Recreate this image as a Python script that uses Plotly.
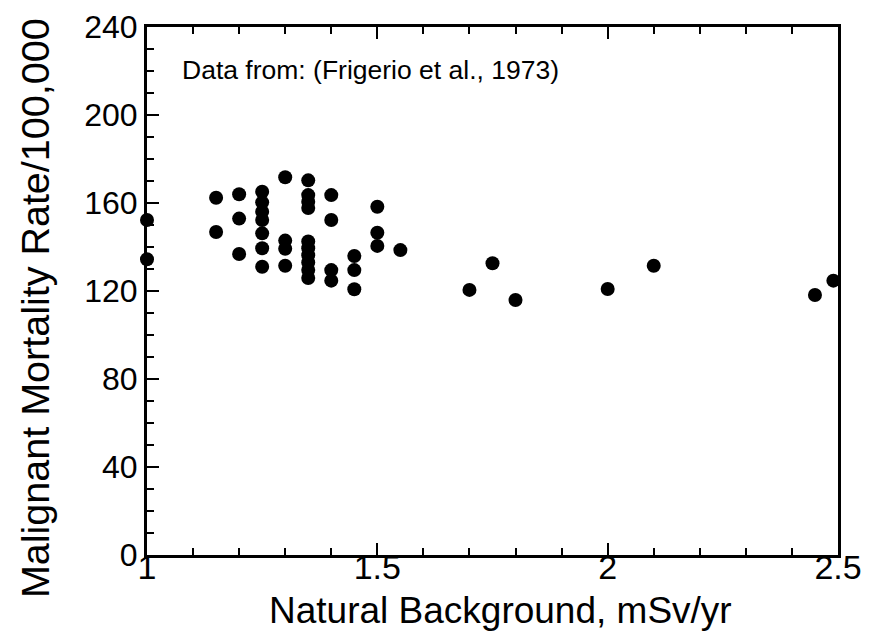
import plotly.graph_objects as go

# Natural background (mSv/yr) and malignant mortality rate per 100,000
background = [1.0, 1.0,
              1.15, 1.15,
              1.2, 1.2, 1.2,
              1.25, 1.25, 1.25, 1.25, 1.25, 1.25, 1.25,
              1.3, 1.3, 1.3, 1.3,
              1.35, 1.35, 1.35, 1.35, 1.35, 1.35, 1.35, 1.35, 1.35, 1.35,
              1.4, 1.4, 1.4, 1.4,
              1.45, 1.45, 1.45,
              1.5, 1.5, 1.5,
              1.55,
              1.7, 1.75, 1.8, 2.0, 2.1, 2.45, 2.49]
mortality = [152.3, 134.4,
             162.4, 146.8,
             164.0, 152.9, 136.8,
             165.1, 160.3, 156.0, 152.3, 146.2, 139.4, 131.0,
             171.7, 142.9, 139.2, 131.5,
             170.3, 163.6, 160.6, 157.7, 142.5, 139.4, 136.3, 133.0, 129.6, 125.9,
             163.6, 152.3, 129.5, 124.7,
             135.9, 129.5, 120.8,
             158.3, 146.5, 140.5,
             138.6,
             120.5, 132.6, 115.9, 120.9, 131.5, 118.2, 124.7]

x_ticks = [1, 1.5, 2, 2.5]
x_tick_labels = ["1", "1.5", "2", "2.5"]
y_ticks = [0, 40, 80, 120, 160, 200, 240]

x_title = "Natural Background, mSv/yr"
y_title = "Malignant Mortality Rate/100,000"
note = "Data from: (Frigerio et al., 1973)"

FONT = "Liberation Sans, Arial, sans-serif"

fig = go.Figure()
fig.add_trace(go.Scatter(
    x=background, y=mortality, mode="markers",
    marker=dict(size=14, color="black"),
    cliponaxis=False, showlegend=False,
))

fig.update_layout(
    width=870, height=634,
    margin=dict(l=147, r=32, t=27, b=79),
    paper_bgcolor="white", plot_bgcolor="white",
    font=dict(family=FONT, color="black"),
    xaxis=dict(
        range=[1, 2.5], tickvals=x_ticks, ticktext=x_tick_labels,
        ticks="inside", ticklen=12, tickwidth=2, tickcolor="black",
        minor=dict(dtick=0.1, ticks="inside", ticklen=7, tickwidth=2, tickcolor="black"),
        showline=True, linewidth=3, linecolor="black", mirror="ticks",
        showgrid=False, zeroline=False,
        tickfont=dict(size=34, family=FONT),
        ticklabelstandoff=-20,
        automargin=False,
    ),
    yaxis=dict(
        range=[0, 240], tickvals=y_ticks,
        ticks="inside", ticklen=12, tickwidth=2, tickcolor="black",
        minor=dict(dtick=10, ticks="inside", ticklen=7, tickwidth=2, tickcolor="black"),
        showline=True, linewidth=3, linecolor="black", mirror=True,
        showgrid=False, zeroline=False,
        tickfont=dict(size=32, family=FONT),
        ticklabelstandoff=0,
        automargin=False,
    ),
    annotations=[
        dict(text=note, xref="paper", yref="paper", x=0.048, y=0.918,
             xanchor="left", yanchor="middle", showarrow=False,
             font=dict(size=26.5, family=FONT, color="black")),
        dict(text=x_title, xref="paper", yref="paper", x=0.5123, y=-0.1042,
             xanchor="center", yanchor="middle", showarrow=False,
             font=dict(size=37, family=FONT, color="black")),
        dict(text=y_title, xref="paper", yref="paper", x=-0.162, y=0.4678,
             xanchor="center", yanchor="middle", showarrow=False, textangle=-90,
             font=dict(size=39.5, family=FONT, color="black")),
    ],
)

fig.write_html("out.html")
